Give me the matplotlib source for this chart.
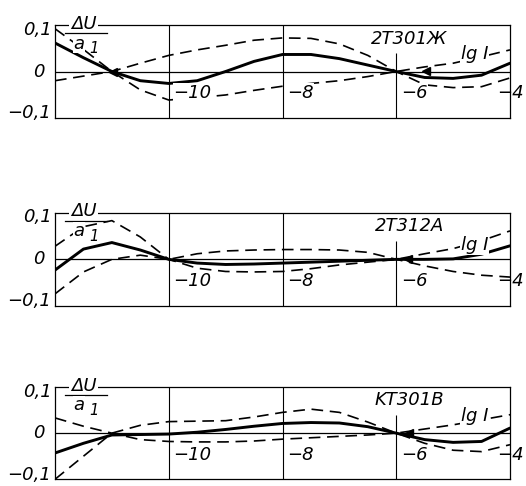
import matplotlib
matplotlib.use("Agg")
import matplotlib.pyplot as plt
from matplotlib.transforms import blended_transform_factory

# ---------------- data ----------------
lg_I = [-12, -11.5, -11, -10.5, -10, -9.5, -9, -8.5, -8, -7.5, -7, -6.5, -6, -5.5, -5, -4.5, -4]

panel_names = ["2T301Ж", "2T312A", "KT301B"]

# 2T301Ж
s1 = [0.062, 0.03, 0.0, -0.02, -0.026, -0.02, 0.0, 0.022, 0.037, 0.037, 0.028, 0.014, 0.0, -0.013, -0.015, -0.008, 0.018]
a1 = [-0.02, -0.01, 0.0, 0.018, 0.035, 0.047, 0.057, 0.068, 0.073, 0.072, 0.06, 0.035, 0.0, -0.029, -0.035, -0.033, -0.014]
b1 = [0.093, 0.048, 0.0, -0.04, -0.062, -0.057, -0.051, -0.041, -0.032, -0.026, -0.02, -0.011, 0.0, 0.01, 0.018, 0.032, 0.047]

# 2T312A
s2 = [-0.023, 0.022, 0.036, 0.02, 0.0, -0.008, -0.011, -0.01, -0.008, -0.006, -0.004, -0.002, 0.0, 0.0, 0.001, 0.011, 0.029]
a2 = [0.028, 0.07, 0.083, 0.048, 0.0, -0.019, -0.026, -0.027, -0.026, -0.02, -0.012, -0.006, 0.0, 0.012, 0.023, 0.04, 0.061]
b2 = [-0.074, -0.027, 0.0, 0.009, 0.0, 0.012, 0.018, 0.02, 0.021, 0.021, 0.02, 0.015, 0.0, -0.014, -0.026, -0.034, -0.038]

# KT301B
s3 = [-0.043, -0.022, -0.004, -0.003, -0.002, 0.002, 0.008, 0.015, 0.021, 0.023, 0.022, 0.014, 0.0, -0.014, -0.02, -0.018, 0.011]
a3 = [0.033, 0.015, 0.0, -0.014, -0.018, -0.019, -0.019, -0.017, -0.013, -0.01, -0.007, -0.004, 0.0, 0.009, 0.018, 0.029, 0.04]
b3 = [-0.1, -0.05, 0.0, 0.017, 0.025, 0.026, 0.027, 0.035, 0.045, 0.052, 0.045, 0.024, 0.0, -0.022, -0.037, -0.04, -0.025]

solid_series = [s1, s2, s3]
dashA_series = [a1, a2, a3]
dashB_series = [b1, b2, b3]

arrow_marks = [[(-10.98, 0.0), (-5.47, 0.002)], [(-5.8, 0.0)], [(-5.77, 0.0)]]

x_ticks = [-10, -8, -6, -4]
x_tick_labels = ["−10", "−8", "−6", "−4"]
y_tick_labels = ["0,1", "0", "−0,1"]

# ---------------- figure ----------------
W, H = 526, 486
fig = plt.figure(figsize=(W / 100, H / 100), dpi=100)
fig.patch.set_facecolor("white")

# (top_px, bottom_px)
panel_px = [(25.5, 117.5), (212.7, 306.0), (387.0, 479.3)]
left_px, right_px = 55, 510

FONT = dict(family="DejaVu Sans", style="oblique", fontsize=13, color="black")

for i in range(3):
    top, bot = panel_px[i]
    ax = fig.add_axes([left_px / W, 1 - bot / H, (right_px - left_px) / W, (bot - top) / H])
    ax.set_xlim(-12, -4)
    ax.set_ylim(-0.1, 0.1)
    ax.set_xticks([])
    ax.set_yticks([])
    for sp in ax.spines.values():
        sp.set_linewidth(0.9)

    # zero line and grid verticals
    ax.axhline(0, color="black", lw=0.9, zorder=1)
    for gx in (-10, -8):
        ax.axvline(gx, color="black", lw=0.8, zorder=1)
    ax.vlines(-6, -0.1, 0.04, color="black", lw=0.8, zorder=1)

    # curves
    ax.plot(lg_I, solid_series[i], color="black", lw=2.1, solid_capstyle="round", zorder=3)
    ax.plot(lg_I, dashA_series[i], color="black", lw=1.2, dashes=(7, 4), zorder=3)
    ax.plot(lg_I, dashB_series[i], color="black", lw=1.2, dashes=(7, 4), zorder=3)

    for (mx, my) in arrow_marks[i]:
        ax.plot([mx], [my], marker="<", ms=6, color="black", zorder=4)

    tr = blended_transform_factory(ax.transAxes, ax.transData)

    # x tick labels (inside)
    for tx, tl in zip(x_ticks, x_tick_labels):
        if tx == -4:
            ax.text((524 - left_px) / (right_px - left_px), -0.047, tl, ha="right", va="center",
                    transform=tr, clip_on=False, zorder=5, **FONT)
        else:
            ax.text(tx + 0.08, -0.047, tl, ha="left", va="center", zorder=5,
                    bbox=dict(facecolor="white", edgecolor="none", pad=0.5), **FONT)

    # y labels
    ax.text(-0.008, 0.09, y_tick_labels[0], ha="right", va="center", transform=tr, **FONT)
    ax.text(-0.022, 0.0, y_tick_labels[1], ha="right", va="center", transform=tr, **FONT)
    ax.text(-0.008, -0.09, y_tick_labels[2], ha="right", va="center", transform=tr, **FONT)

    # ΔU / a1 label
    ax.text(-11.5, 0.103, "ΔU", ha="center", va="center", zorder=5, clip_on=False,
            bbox=dict(facecolor="white", edgecolor="none", pad=1.0), **FONT)
    ax.plot([-11.82, -11.08], [0.083, 0.083], color="black", lw=0.9, zorder=5, clip_on=False)
    ax.text(-11.58, 0.06, "a", ha="center", va="center", zorder=5,
            bbox=dict(facecolor="white", edgecolor="none", pad=0.3), **FONT)
    ax.text(-11.32, 0.05, "1", ha="center", va="center", zorder=5,
            family="DejaVu Sans", style="oblique", fontsize=10.5, color="black")

    # device name and axis name
    ax.text(-5.77, 0.071, panel_names[i], ha="center", va="center", zorder=5, **FONT)
    lgy = [0.039, 0.03, 0.037][i]
    ax.text(-4.62, lgy, "lg I", ha="center", va="center", zorder=5,
            bbox=dict(facecolor="white", edgecolor="none", pad=0.5), **FONT)

fig.savefig("out.png", dpi=100, facecolor="white")
